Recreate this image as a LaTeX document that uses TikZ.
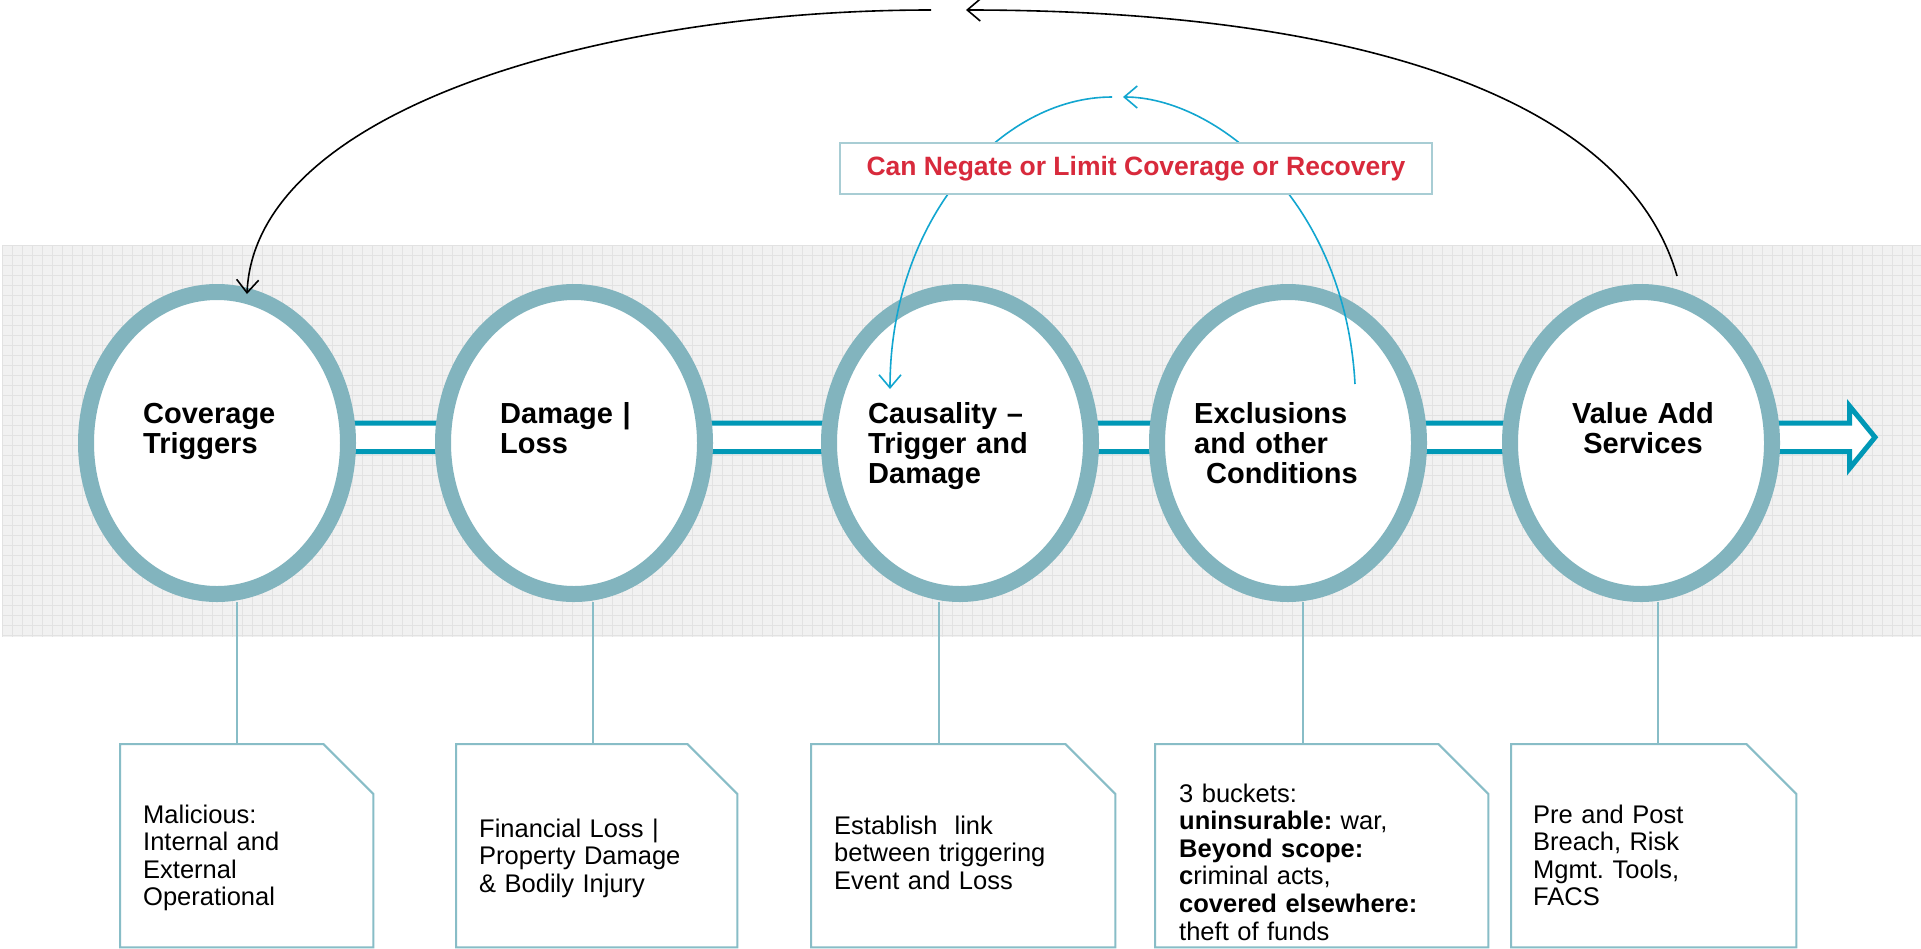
\documentclass[tikz,border=0pt]{standalone}
\usepackage{fontspec}
\setmainfont{Liberation Sans}
\usetikzlibrary{arrows.meta,shapes.geometric}
\frenchspacing

\definecolor{ring}{HTML}{82B4BE}
\definecolor{flow}{HTML}{0098B6}
\definecolor{boxline}{HTML}{88BDC7}
\definecolor{gridbg}{HTML}{F1F1F1}
\definecolor{gridln}{HTML}{E2E2E2}
\definecolor{alert}{HTML}{D82A3C}
\definecolor{arcblue}{HTML}{12A6D0}
\definecolor{tagline}{HTML}{A8CDD4}

\pgfdeclarelayer{back}
\pgfsetlayers{back,main}

\begin{document}
\begin{tikzpicture}[x=1pt,y=-1pt,
  stagering/.style={ellipse, draw=ring, line width=16pt, fill=white,
    minimum width=262pt, minimum height=302pt, inner sep=0pt},
  stagelabel/.style={font=\fontsize{29}{30}\selectfont\bfseries,
    text width=220pt, align=left, inner sep=0pt, anchor=base west},
  notebox/.style={minimum width=#1, minimum height=203pt, inner sep=0pt,
    anchor=north west},
  notetext/.style={font=\fontsize{25.5}{27.6}\selectfont,
    text width=280pt, align=left, inner sep=0pt, anchor=base west},
  tieline/.style={draw=boxline, line width=1.2pt},
  chamfer/.style={draw=boxline, line width=2pt, line join=miter},
  returnarc/.style={line width=1.6pt, -{Straight Barb[length=13pt,width=22pt]}}]

\useasboundingbox (0,0) rectangle (1921,948);

% stages
\node[stagering] (c1) at (217,443) {};
\node[stagering] (c2) at (574,443) {};
\node[stagering] (c3) at (960,443) {};
\node[stagering] (c4) at (1288,443) {};
\node[stagering] (c5) at (1641,443) {};

\node[stagelabel] (l1) at (143,423) {Coverage\\Triggers};
\node[stagelabel] (l2) at (500,423) {Damage |\\Loss};
\node[stagelabel] (l3) at (868,423) {Causality –\\Trigger and\\Damage};
\node[stagelabel] (l4) at (1194,423) {Exclusions\\and other\\\hspace*{12pt}Conditions};
\node[stagelabel, align=center, anchor=base] (l5) at (1643,423) {Value Add\\Services};

% detail notes
\node[notebox=253pt] (b1) at (120,744) {};
\node[notebox=281pt] (b2) at (456,744) {};
\node[notebox=304pt] (b3) at (811,744) {};
\node[notebox=333pt] (b4) at (1155,744) {};
\node[notebox=285pt] (b5) at (1511,744) {};
\foreach \b in {b1,b2,b3,b4,b5}
  \draw[chamfer] (\b.north west) -- ([xshift=-50pt]\b.north east)
    -- ([yshift=-50pt]\b.north east) -- (\b.south east)
    -- (\b.south west) -- cycle;

\node[notetext] (n1) at (143,823) {Malicious:\\Internal and\\External\\Operational};
\node[notetext] (n2) at (479,837) {Financial Loss |\\Property Damage\\\& Bodily Injury};
\node[notetext] (n3) at (834,834) {Establish\ \ link\\between triggering\\Event and Loss};
\node[notetext] (n4) at (1179,802) {3 buckets:\\\textbf{uninsurable:} war,\\\textbf{Beyond scope:}\\\textbf{c}riminal acts,\\\textbf{covered elsewhere:}\\theft of funds};
\node[notetext] (n5) at (1533,823) {Pre and Post\\Breach, Risk\\Mgmt. Tools,\\FACS};

% band, flow arrow and note ties behind the stages
\begin{pgfonlayer}{back}
  \fill[white] (0,0) rectangle (1921,948);
  \fill[gridbg] (2,245) rectangle (1921,637);
  \foreach \x in {2,12,...,1921}
    \draw[gridln, line width=0.8pt] (\x,245) -- (\x,637);
  \foreach \y in {245,255,...,637}
    \draw[gridln, line width=0.8pt] (2,\y) -- (1921,\y);
  \draw[flow, line width=5pt, fill=white, miter limit=10]
    (c1.center |- 0,423) -- (1849.5,423) -- (1849.5,406) -- (1875,437.25)
    -- (1849.5,468.5) -- (1849.5,451.5) -- (c1.center |- 0,451.5) -- cycle;
  \draw[tieline] ([xshift=20pt]c1.south) -- ([xshift=20pt]c1.south |- b1.north);
  \draw[tieline] ([xshift=19pt]c2.south) -- ([xshift=19pt]c2.south |- b2.north);
  \draw[tieline] ([xshift=-21pt]c3.south) -- ([xshift=-21pt]c3.south |- b3.north);
  \draw[tieline] ([xshift=15pt]c4.south) -- ([xshift=15pt]c4.south |- b4.north);
  \draw[tieline] ([xshift=17pt]c5.south) -- ([xshift=17pt]c5.south |- b5.north);
\end{pgfonlayer}

% feedback from the last stage to the first
\coordinate (topR) at (966,10);
\coordinate (topL) at (931,10);
\draw[returnarc, black] ([shift={(36pt,8pt)}]c5.north)
  .. controls (1625,95) and (1350,10) .. (topR);
\draw[returnarc, black] (topL)
  .. controls (600,10) and (255,110) .. ([shift={(30pt,-10pt)}]c1.north);

% exclusions feeding back into causality
\coordinate (midR) at (1123,97);
\coordinate (midL) at (1112,97);
\draw[returnarc, arcblue] ([shift={(67pt,59pt)}]c4.center)
  .. controls (1345,200) and (1215,97) .. (midR);
\draw[returnarc, arcblue] (midL)
  .. controls (1000,97) and (890,220) .. ([shift={(-70pt,54pt)}]c3.center);

\node[draw=tagline, line width=1.2pt, fill=white, minimum width=592pt,
  minimum height=51pt, inner sep=0pt, text=alert,
  font=\fontsize{26.5}{30}\selectfont\bfseries] (warn) at (1136,168.5)
  {Can Negate or Limit Coverage or Recovery};
\end{tikzpicture}
\end{document}
